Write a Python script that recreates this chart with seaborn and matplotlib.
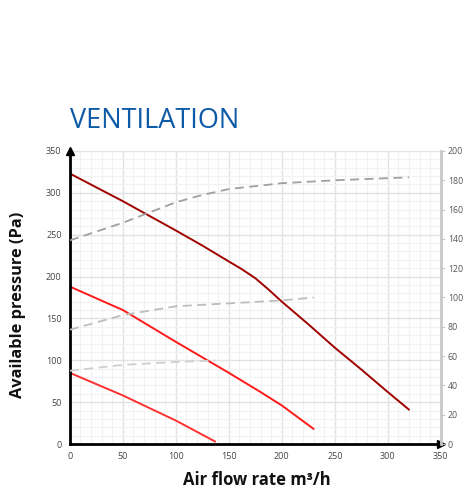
import matplotlib
matplotlib.use("Agg")
import matplotlib.pyplot as plt
from matplotlib.ticker import MultipleLocator
import seaborn as sns
import pandas as pd

# Pressure curves (left axis, Pa)
flow_dark = [0, 50, 100, 125, 150, 162, 175, 187, 200, 225, 250, 275, 300, 320]
press_dark = [323, 290, 255, 237, 218, 209, 198, 185, 170, 143, 115, 89, 62, 41]
flow_mid = [0, 50, 100, 150, 180, 200, 230]
press_mid = [188, 160, 122, 85, 62, 46, 18]
flow_low = [0, 50, 100, 137]
press_low = [85, 58, 28, 3]

# Dashed curves (right axis)
flow_top_d = [0, 50, 100, 125, 150, 200, 250, 320]
right_top_d = [139, 151, 165, 170, 174, 178, 180, 182]
flow_mid_d = [0, 50, 100, 150, 200, 230]
right_mid_d = [78, 88, 94, 96, 98, 100]
flow_low_d = [0, 50, 100, 137]
right_low_d = [50, 54, 56, 57]

sns.set_style("white")
plt.rcParams['font.family'] = ['Open Sans', 'DejaVu Sans']

fig = plt.figure(figsize=(4.66, 4.95), dpi=100)
ax = fig.add_axes([0.150, 0.103, 0.796, 0.592])
ax2 = ax.twinx()

# grid
ax.set_xlim(0, 350)
ax.set_ylim(0, 350)
ax.xaxis.set_major_locator(MultipleLocator(50))
ax.yaxis.set_major_locator(MultipleLocator(50))
ax.xaxis.set_minor_locator(MultipleLocator(10))
ax.yaxis.set_minor_locator(MultipleLocator(10))
ax.grid(which='major', color='#e2e2e2', lw=1)
ax.grid(which='minor', color='#f2f2f2', lw=0.8)
ax.set_axisbelow(True)

# dashed curves on right axis
ax2.set_ylim(0, 200)
ax2.yaxis.set_major_locator(MultipleLocator(20))
for fx, fy, c in [(flow_top_d, right_top_d, '#a0a0a0'),
                  (flow_mid_d, right_mid_d, '#bdbdbd'),
                  (flow_low_d, right_low_d, '#cfcfcf')]:
    sns.lineplot(x=fx, y=fy, ax=ax2, color=c, lw=1.3, linestyle=(0, (5, 3)))

# pressure curves
for fx, fy, c in [(flow_dark, press_dark, '#a00000'),
                  (flow_mid, press_mid, '#ff1a1a'),
                  (flow_low, press_low, '#ff3030')]:
    sns.lineplot(x=fx, y=fy, ax=ax, color=c, lw=1.4)

# spines
for s in ['top', 'right']:
    ax.spines[s].set_visible(False)
for s in ['top', 'left', 'bottom']:
    ax2.spines[s].set_visible(False)
ax.spines['left'].set_color('black')
ax.spines['left'].set_linewidth(2)
ax.spines['bottom'].set_color('black')
ax.spines['bottom'].set_linewidth(2)
ax2.spines['right'].set_color('#c8c8c8')
ax2.spines['right'].set_linewidth(2)
ax.plot(0, 1, '^k', ms=6, transform=ax.transAxes, clip_on=False)
ax.plot(1, 0, '>k', ms=6, transform=ax.transAxes, clip_on=False)

ax.tick_params(axis='both', which='both', length=0, labelsize=6.5,
               labelcolor='#444444', pad=6)
ax2.tick_params(axis='y', length=3, color='#c8c8c8', labelsize=6.3,
                labelcolor='#555555', pad=2)
ax.set_xlabel('')
ax.set_ylabel('')
ax2.set_ylabel('')

fig.text(0.150, 0.741, 'VENTILATION', color='#0d5aa7', fontsize=19.5,
         ha='left', va='baseline')
fig.text(0.038, 0.384, 'Available pressure (Pa)', rotation=90, fontsize=11.8,
         fontweight='bold', ha='center', va='center', color='#111111')
fig.text(0.552, 0.030, 'Air flow rate m³/h', fontsize=12,
         fontweight='bold', ha='center', va='center', color='#111111')

fig.savefig('out.png', dpi=100)
